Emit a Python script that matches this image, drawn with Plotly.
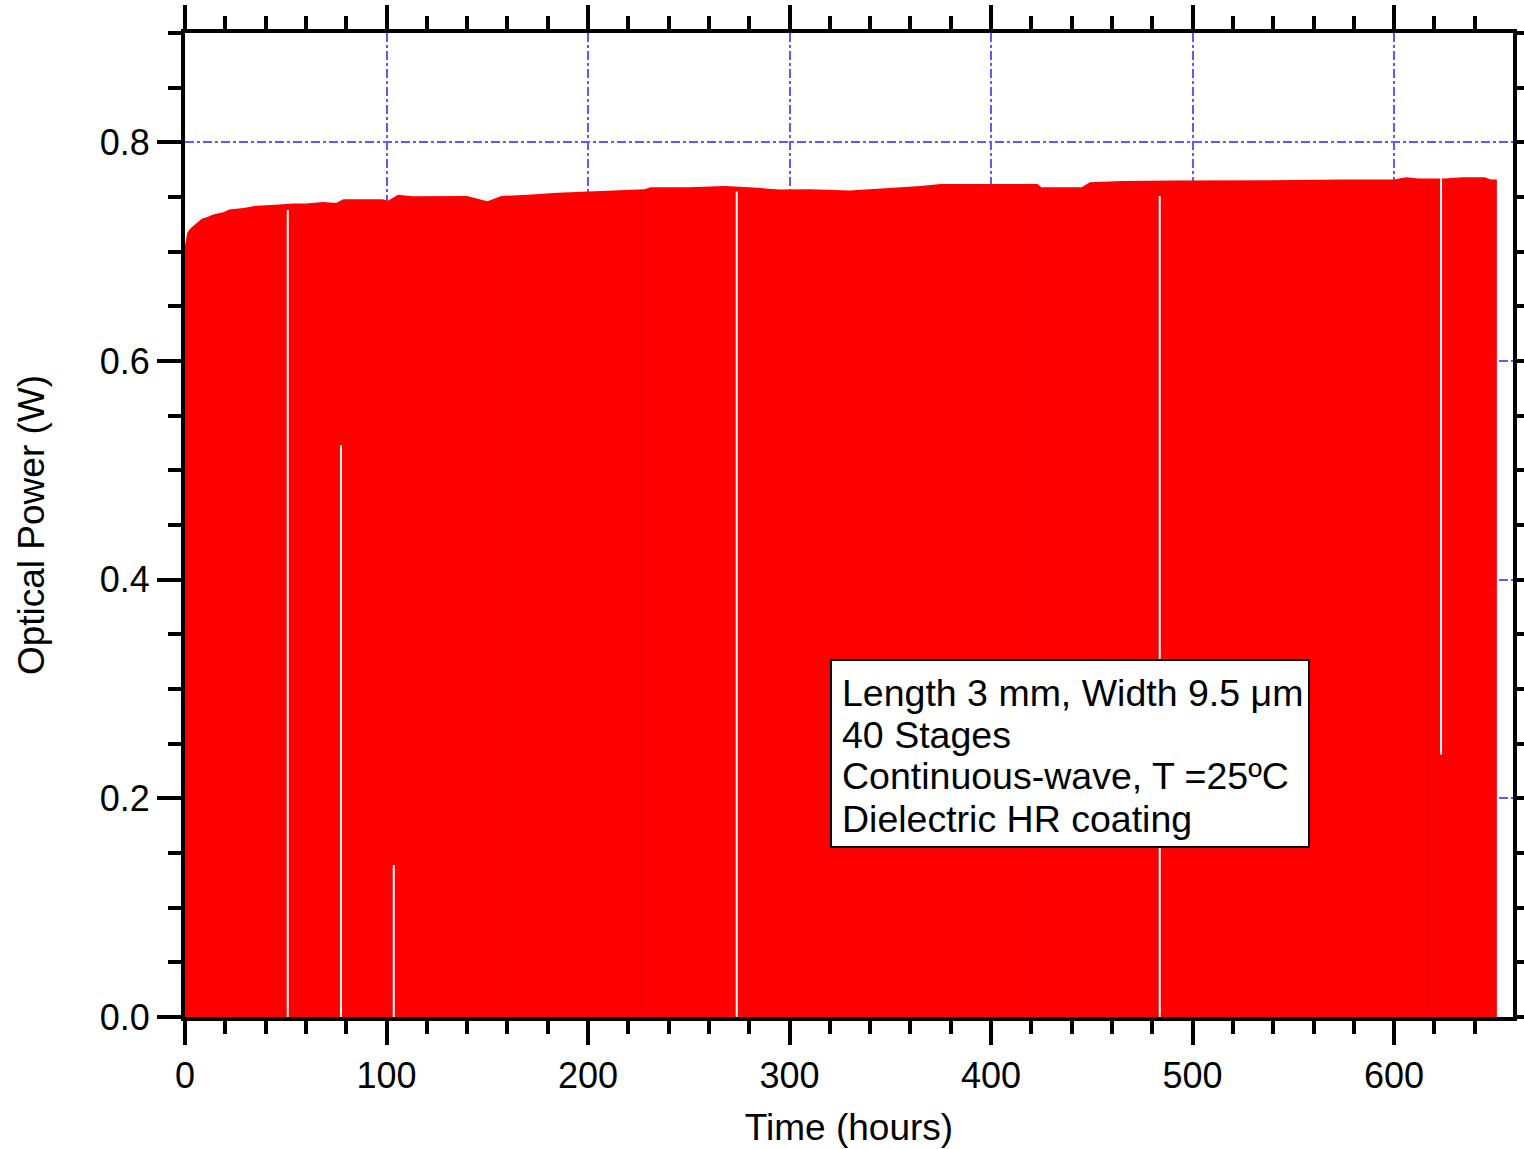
import plotly.graph_objects as go

# Envelope of the optical power trace (hours, W)
time_h = [0, 0.5, 1.1, 2.5, 5, 8.3, 10.8, 14, 19, 22, 29, 35.6, 45, 53.6, 60, 68.5,
          75, 78.5, 90, 98, 100.7, 105.7, 113, 125, 140, 150, 157, 170, 185, 200,
          215, 228, 231, 250, 268, 280, 295, 310, 330, 350, 365, 375, 400, 423,
          425, 445, 449, 465, 490, 510, 530, 550, 575, 600, 606, 612, 625, 634,
          645, 648, 651]
power_w = [0.706, 0.712, 0.717, 0.721, 0.725, 0.730, 0.7315, 0.734, 0.736, 0.7385,
           0.740, 0.742, 0.743, 0.744, 0.744, 0.7454, 0.7445, 0.748, 0.748, 0.748,
           0.7466, 0.752, 0.7506, 0.751, 0.751, 0.746, 0.751, 0.752, 0.754, 0.755,
           0.756, 0.757, 0.759, 0.759, 0.760, 0.759, 0.7568, 0.757, 0.756, 0.758,
           0.760, 0.762, 0.762, 0.762, 0.759, 0.759, 0.7634, 0.7646, 0.765, 0.765,
           0.765, 0.7655, 0.766, 0.766, 0.768, 0.767, 0.767, 0.768, 0.768, 0.766,
           0.766]

# Interruptions (gaps) in the trace: time, low and high power
gap_time = [51.0, 77.4, 103.6, 273.8, 483.7, 623.3]
gap_low = [0.0, 0.0, 0.0, 0.0, 0.0, 0.24]
gap_high = [0.738, 0.523, 0.139, 0.755, 0.751, 0.767]

# Faint darker seams in the trace
seam_time = [155, 227, 424, 611.5, 617]
seam_high = [0.746, 0.757, 0.760, 0.766, 0.767]

x_ticks = [0, 100, 200, 300, 400, 500, 600]
y_ticks = [0.0, 0.2, 0.4, 0.6, 0.8]
y_tick_text = ["0.0", "0.2", "0.4", "0.6", "0.8"]

info_lines = ["Length 3 mm, Width 9.5 \u03bcm", "40 Stages",
              "Continuous-wave, T =25\u00baC", "Dielectric HR coating"]

FONT = "Liberation Sans, Arial, sans-serif"

fig = go.Figure()
fig.add_trace(go.Scatter(x=time_h, y=power_w, mode="lines", fill="tozeroy",
                         fillcolor="#ff0000", line=dict(width=0, color="#ff0000"),
                         hoverinfo="skip", showlegend=False))

sx, sy = [], []
for t, h in zip(seam_time, seam_high):
    sx += [t, t, None]
    sy += [0, h - 0.002, None]
fig.add_trace(go.Scatter(x=sx, y=sy, mode="lines", line=dict(width=1, color="#e80000"),
                         hoverinfo="skip", showlegend=False))

gx, gy = [], []
for t, lo, hi in zip(gap_time, gap_low, gap_high):
    gx += [t, t, None]
    gy += [lo, hi, None]
fig.add_trace(go.Scatter(x=gx, y=gy, mode="lines", line=dict(width=2, color="white"),
                         hoverinfo="skip", showlegend=False))

# Text box
box_x0, box_x1, box_y0, box_y1 = 0.4864, 0.8464, 0.1727, 0.3627
fig.add_shape(type="rect", xref="paper", yref="paper", x0=box_x0, x1=box_x1,
              y0=box_y0, y1=box_y1, fillcolor="white", line=dict(color="black", width=2),
              layer="above")
line_y = [0.3291, 0.2865, 0.2448, 0.2011]
for txt, yy in zip(info_lines, line_y):
    fig.add_annotation(x=0.4932, y=yy, xref="paper", yref="paper", text=txt,
                       showarrow=False, xanchor="left", yanchor="middle",
                       font=dict(family=FONT, size=37.5, color="black"))

axis_common = dict(
    showline=True, linecolor="black", linewidth=4, mirror="ticks",
    ticks="outside", ticklen=24, tickwidth=4, tickcolor="black",
    showgrid=True, gridcolor="#5a5aff", gridwidth=1.5, griddash="dashdot",
    zeroline=False, automargin=False,
    tickfont=dict(family=FONT, size=36, color="black"),
)

fig.update_xaxes(range=[0, 659], tickvals=x_ticks,
                 minor=dict(dtick=20, ticklen=13, tickwidth=4, tickcolor="black",
                            ticks="outside", showgrid=False),
                 title=dict(text="Time (hours)", font=dict(family=FONT, size=37, color="black"),
                            standoff=20),
                 **axis_common)
fig.update_yaxes(range=[0, 0.9], tickvals=y_ticks, ticktext=y_tick_text,
                 minor=dict(dtick=0.05, ticklen=13, tickwidth=4, tickcolor="black",
                            ticks="outside", showgrid=False),
                 title=dict(text="Optical Power (W)", font=dict(family=FONT, size=37, color="black"),
                            standoff=45),
                 **axis_common)

fig.update_layout(width=1524, height=1149, plot_bgcolor="white", paper_bgcolor="white",
                  margin=dict(l=185, r=11, t=33, b=132), showlegend=False)

fig.write_html("out.html")
